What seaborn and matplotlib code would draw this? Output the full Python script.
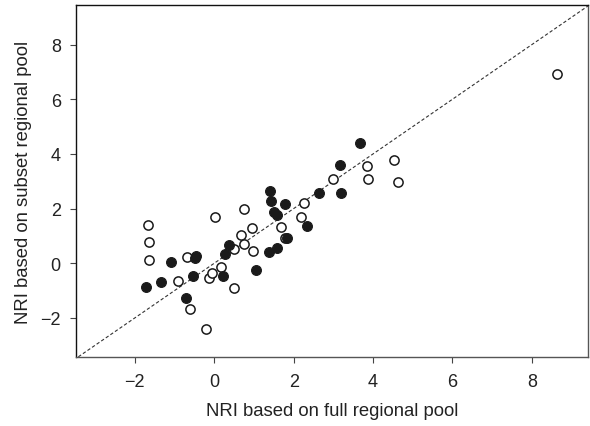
import numpy as np
import pandas as pd
import seaborn as sns
from matplotlib import pyplot as plt

# filled circles
filled_x = [-1.72, -1.34, -1.08, -0.70, -0.54, -0.48, -0.45, 0.22, 0.27, 0.37,
            1.04, 1.38, 1.41, 1.44, 1.50, 1.57, 1.58, 1.78, 1.83, 2.33,
            2.65, 3.16, 3.18, 3.68]
filled_y = [-0.86, -0.70, 0.05, -1.29, -0.45, 0.20, 0.27, -0.47, 0.32, 0.66,
            -0.23, 0.40, 2.66, 2.27, 1.86, 1.78, 0.56, 2.18, 0.94, 1.35,
            2.58, 3.58, 2.58, 4.40]

# open circles
open_x = [-1.66, -1.64, -1.64, -0.91, -0.68, -0.60, -0.21, -0.14, -0.05, 0.02,
          0.16, 0.49, 0.50, 0.68, 0.75, 0.76, 0.95, 0.98, 1.67, 1.78,
          2.18, 2.27, 2.99, 3.84, 3.86, 4.53, 4.63, 8.64]
open_y = [1.39, 0.76, 0.11, -0.65, 0.23, -1.68, -2.42, -0.54, -0.36, 1.69,
          -0.13, 0.53, -0.91, 1.02, 1.98, 0.70, 1.30, 0.44, 1.33, 0.94,
          1.69, 2.21, 3.10, 3.56, 3.08, 3.78, 2.99, 6.94]

xticks = [-2, 0, 2, 4, 6, 8]
yticks = [-2, 0, 2, 4, 6, 8]

sns.set_style("ticks")
plt.rcParams['font.family'] = ['Liberation Sans', 'DejaVu Sans']

df_filled = pd.DataFrame({"full": filled_x, "subset": filled_y})
df_open = pd.DataFrame({"full": open_x, "subset": open_y})

fig = plt.figure(figsize=(5.9, 4.27), dpi=100)
ax = fig.add_axes([0.129, 0.161, 0.868, 0.825])

xlim = (-3.48, 9.42)
ylim = (-3.44, 9.45)
# 1:1 line
ax.plot([-4, 10], [-4, 10], ls=(0, (3, 2)), color="#333333", lw=0.8, zorder=1)

sns.scatterplot(data=df_open, x="full", y="subset", ax=ax, s=44,
                facecolor="white", edgecolor="#1a1a1a", linewidth=1.1, zorder=3)
sns.scatterplot(data=df_filled, x="full", y="subset", ax=ax, s=50,
                color="#1a1a1a", edgecolor="#1a1a1a", linewidth=0.8, zorder=4)

ax.set_xlim(*xlim)
ax.set_ylim(*ylim)
ax.set_xticks(xticks)
ax.set_yticks(yticks)
ax.set_xticklabels(["\u2212" + str(-t) if t < 0 else str(t) for t in xticks])
ax.set_yticklabels(["\u2212" + str(-t) if t < 0 else str(t) for t in yticks])
ax.tick_params(labelsize=13, length=4, width=0.8, color="#444444", pad=7,
               labelcolor="#222222")
ax.set_xlabel("NRI based on full regional pool", fontsize=13.3, labelpad=9, color="#222222")
ax.set_ylabel("NRI based on subset regional pool", fontsize=13.3, labelpad=6, color="#222222")
for side in ["left", "top"]:
    ax.spines[side].set_color("#111111")
for side in ["right", "bottom"]:
    ax.spines[side].set_color("#555555")
for sp in ax.spines.values():
    sp.set_linewidth(1.0)

plt.savefig("out.png", dpi=100)
